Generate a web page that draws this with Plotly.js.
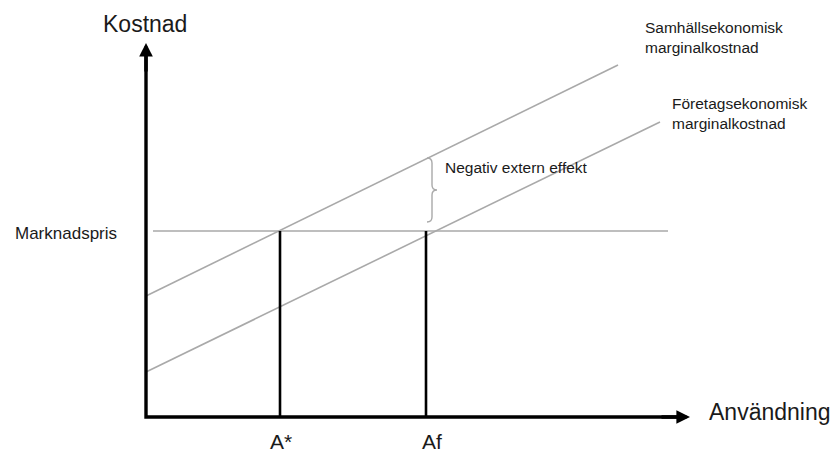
<!DOCTYPE html>
<html>
<head>
<meta charset="utf-8">
<script src="https://cdn.plot.ly/plotly-3.0.1.min.js"></script>
<style>html,body{margin:0;padding:0;background:#fff}#chart{width:838px;height:454px}</style>
</head>
<body>
<div id="chart"></div>
<script>
// Conceptual units (quantity on x, cost on y)
const axisXEnd = 544;            // tip of the quantity axis arrow
const axisYEnd = 374;            // tip of the cost axis arrow
const marketPrice = 186;         // Marknadspris
const priceLineX = [7, 522];
const smcX = [0, 472];           // Samhällsekonomisk marginalkostnad
const smcY = [121, 352];
const pmcX = [0, 514];           // Företagsekonomisk marginalkostnad
const pmcY = [45, 295];
const dropX = [134, 280];        // A*, Af
const dropLabels = ['A*', 'Af'];
const braceX = 286, braceTop = 259, braceBottom = 195;

const font = 'Liberation Sans, Arial, sans-serif';
const txt = '#1a1a1a';
const gray = '#a9a9a9';

const traces = [];
traces.push({x: smcX, y: smcY, mode: 'lines', line: {color: gray, width: 1.6}, hoverinfo: 'skip'});
traces.push({x: pmcX, y: pmcY, mode: 'lines', line: {color: gray, width: 1.6}, hoverinfo: 'skip'});
traces.push({x: priceLineX, y: [marketPrice, marketPrice], mode: 'lines', line: {color: gray, width: 1.6}, hoverinfo: 'skip'});
dropX.forEach(function (xv) {
  traces.push({x: [xv, xv], y: [0, marketPrice], mode: 'lines', line: {color: '#000', width: 2.6}, hoverinfo: 'skip'});
});
// axes
traces.push({x: [0, 0, axisXEnd - 8], y: [axisYEnd - 8, 0, 0], mode: 'lines',
  line: {color: '#000', width: 3.4}, hoverinfo: 'skip'});

// brace
const mid = (braceTop + braceBottom) / 2, h = 5, v = 5;
const bracePath = 'M' + (braceX - h) + ',' + braceTop +
  ' Q' + braceX + ',' + braceTop + ' ' + braceX + ',' + (braceTop - v) +
  ' L' + braceX + ',' + (mid + v) +
  ' Q' + braceX + ',' + mid + ' ' + (braceX + h) + ',' + mid +
  ' Q' + braceX + ',' + mid + ' ' + braceX + ',' + (mid - v) +
  ' L' + braceX + ',' + (braceBottom + v) +
  ' Q' + braceX + ',' + braceBottom + ' ' + (braceX - h) + ',' + braceBottom;

const annotations = [
  {x: 0, y: axisYEnd, ax: 0, ay: axisYEnd - 30, axref: 'x', ayref: 'y', xref: 'x', yref: 'y',
   showarrow: true, arrowhead: 2, arrowsize: 0.8, arrowwidth: 3.4, arrowcolor: '#000', text: ''},
  {x: axisXEnd, y: 0, ax: axisXEnd - 30, ay: 0, axref: 'x', ayref: 'y', xref: 'x', yref: 'y',
   showarrow: true, arrowhead: 2, arrowsize: 0.8, arrowwidth: 3.4, arrowcolor: '#000', text: ''},
  {x: -1, y: 393, text: 'Kostnad', showarrow: false, xanchor: 'center', yanchor: 'middle', font: {family: font, size: 23, color: txt}},
  {x: 561, y: 5, text: 'Användning', showarrow: false, xanchor: 'left', yanchor: 'middle', font: {family: font, size: 23, color: txt}},
  {x: -133, y: 184, text: 'Marknadspris', showarrow: false, xanchor: 'left', yanchor: 'middle', font: {family: font, size: 17, color: txt}},
  {x: 497, y: 380, text: 'Samhällsekonomisk<br>marginalkostnad', align: 'left', showarrow: false, xanchor: 'left', yanchor: 'middle', font: {family: font, size: 15.5, color: txt}},
  {x: 524, y: 303.5, text: 'Företagsekonomisk<br>marginalkostnad', align: 'left', showarrow: false, xanchor: 'left', yanchor: 'middle', font: {family: font, size: 15.5, color: txt}},
  {x: 297, y: 250, text: 'Negativ extern effekt', showarrow: false, xanchor: 'left', yanchor: 'middle', font: {family: font, size: 15.5, color: txt}}
];
dropLabels.forEach(function (lab, i) {
  annotations.push({x: dropX[i] + (i === 0 ? 1 : 6), y: -24, text: lab, showarrow: false, xanchor: 'center', yanchor: 'middle',
    font: {family: font, size: 21, color: txt}});
});

const layout = {
  width: 838, height: 454,
  margin: {l: 0, r: 0, t: 0, b: 0, pad: 0},
  paper_bgcolor: '#fff', plot_bgcolor: '#fff',
  showlegend: false,
  xaxis: {range: [-146, 692], visible: false, fixedrange: true},
  yaxis: {range: [-37, 417], visible: false, fixedrange: true},
  shapes: [{type: 'path', xref: 'x', yref: 'y', path: bracePath, line: {color: gray, width: 1.4}}],
  annotations: annotations
};

Plotly.newPlot('chart', traces, layout, {staticPlot: true, displayModeBar: false});
</script>
</body>
</html>
